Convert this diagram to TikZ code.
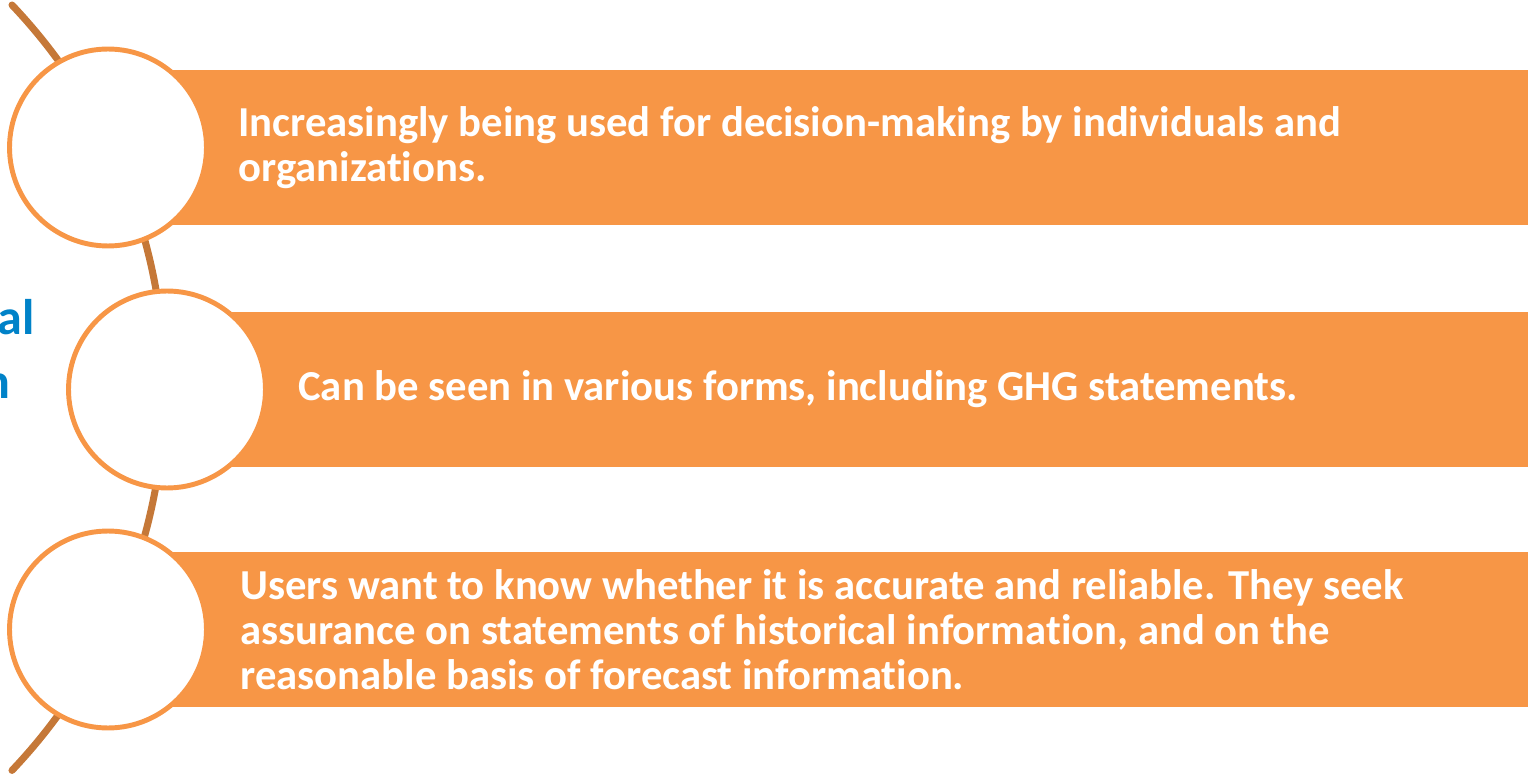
\documentclass[tikz,border=0pt]{standalone}
\usepackage{fontspec}
\setmainfont{Carlito}[Ligatures=NoCommon]
\usepackage{tikz}
\usetikzlibrary{positioning,calc}
\definecolor{barorange}{HTML}{F79646}
\definecolor{arcbrown}{HTML}{C57838}
\definecolor{headblue}{HTML}{0082C8}

\begin{document}
\begin{tikzpicture}[x=0.02cm,y=0.02cm,
    bar/.style={rectangle,fill=barorange,draw=none,minimum width=28.4cm,minimum height=3.1cm,anchor=west,inner sep=0pt},
    disc/.style={circle,fill=white,draw=barorange,line width=2.8pt,minimum size=3.94cm,inner sep=0pt},
    txt/.style={anchor=west,align=left,text=white,inner sep=0pt,font=\fontsize{24.3}{25.6}\selectfont\bfseries},
    head/.style={anchor=base east,text=headblue,inner sep=0pt,font=\fontsize{28.5}{30}\selectfont\bfseries}]
    \useasboundingbox (0,0) rectangle (1535,775);
    % the arc behind the circles
    \coordinate (top) at (12,770);
    \draw[arcbrown,line width=4pt,line cap=round] (top) arc[start angle=43.5,end angle=-43.5,radius=556];
    % bars
    \node[bar] (b1) at (108,627.5) {};
    \node[bar,minimum width=27.22cm] (b2) at (167,385.5) {};
    \node[bar] (b3) at (108,145.5) {};
    % circles
    \node[disc] (c1) at (b1.west) {};
    \node[disc] (c2) at (b2.west) {};
    \node[disc] (c3) at (b3.west) {};
    % texts
    \node[txt] (t1) at ($(c1.center)+(130,0)$) {Increasingly being used for decision-making by individuals and\\organizations.};
    \node[txt] (t2) at ($(c2.center)+(131,0)$) {Can be seen in various forms, including GHG statements.};
    \node[txt] (t3) at ($(c3.center)+(132,0)$) {Users want to know whether it is accurate and reliable. They seek\\assurance on statements of historical information, and on the\\reasonable basis of forecast information.};
    \node[head] (h1) at (35,440) {al};
    \node[head] (h2) at (11,377) {n};
\end{tikzpicture}
\end{document}
